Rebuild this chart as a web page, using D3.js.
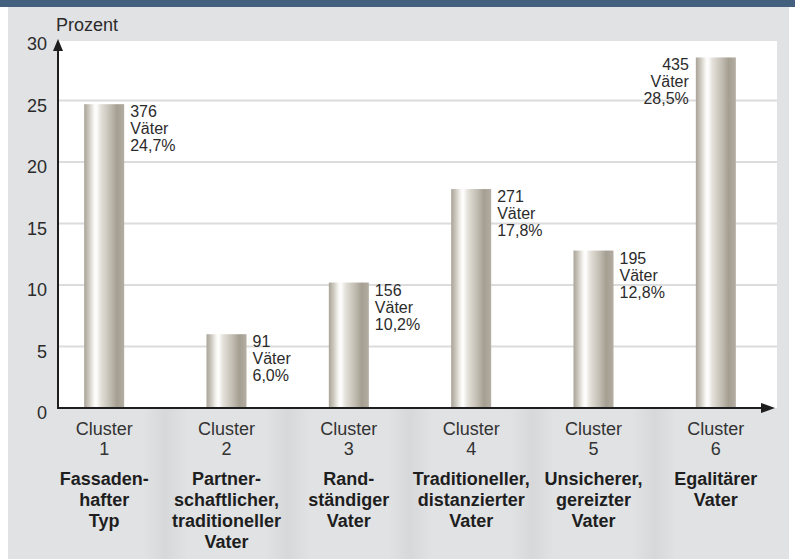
<!DOCTYPE html>
<html>
<head>
<meta charset="utf-8">
<script src="https://cdn.jsdelivr.net/npm/d3@7/dist/d3.min.js"></script>
<style>
  body { margin: 0; background: #fff; }
  svg { display: block; font-family: "Liberation Sans", Arial, sans-serif; }
</style>
</head>
<body>
<svg id="chart"></svg>
<script>
// data
const clusters = ['1', '2', '3', '4', '5', '6'];
const percents = [24.7, 6.0, 10.2, 17.8, 12.8, 28.5];
const fathers = [376, 91, 156, 271, 195, 435];
const typeNames = [
  ['Fassaden-', 'hafter', 'Typ'],
  ['Partner-', 'schaftlicher,', 'traditioneller', 'Vater'],
  ['Rand-', 'ständiger', 'Vater'],
  ['Traditioneller,', 'distanzierter', 'Vater'],
  ['Unsicherer,', 'gereizter', 'Vater'],
  ['Egalitärer', 'Vater']
];
const yTicks = [0, 5, 10, 15, 20, 25, 30];

const width = 795;
const height = 559;
const svg = d3.select('#chart').attr('width', width).attr('height', height);
const defs = svg.append('defs');

const ink = '#2b2b2b';

// scales
const x = d3.scalePoint().domain(clusters).range([43, 777]).padding(0.5);
const y = d3.scaleLinear().domain([0, 30]).range([408, 39]);
const barW = 40;
const step = x.step();

// bar gradient (metal tube look)
const bg = defs.append('linearGradient').attr('id', 'bar').attr('x1', 0).attr('x2', 1);
[[0, '#a9a397'], [0.12, '#cdc9c0'], [0.24, '#f6f5f1'], [0.3, '#ffffff'], [0.42, '#e3e0d9'],
 [0.65, '#c2bdb2'], [0.82, '#a59f92'], [1, '#b3ada2']]
  .forEach(([o, c]) => bg.append('stop').attr('offset', o).attr('stop-color', c));

// soft darker bands between the clusters
const band = defs.append('linearGradient').attr('id', 'band').attr('x1', 0).attr('x2', 1);
[[0, '#e1e2e4'], [0.5, '#d7d8da'], [1, '#e1e2e4']]
  .forEach(([o, c]) => band.append('stop').attr('offset', o).attr('stop-color', c));

// panel
svg.append('rect').attr('x', 8).attr('y', 0).attr('width', width - 14).attr('height', height)
  .attr('fill', '#e1e2e4');
svg.append('g').selectAll('rect')
  .data(clusters.slice(1))
  .enter()
  .append('rect')
  .attr('x', (d) => x(d) - step / 2 - 22)
  .attr('y', 41)
  .attr('width', 44)
  .attr('height', height - 41)
  .attr('fill', 'url(#band)');
svg.append('rect').attr('x', 0).attr('y', 0).attr('width', width).attr('height', 7)
  .attr('fill', '#44607f');

// plot area
svg.append('rect')
  .attr('x', 58).attr('y', y(30) + 2)
  .attr('width', 777 - 58).attr('height', y(0) - y(30) - 2)
  .attr('fill', '#fff');

// gridlines
svg.append('g').selectAll('line')
  .data(yTicks.filter((d) => d > 0 && d < 30))
  .enter()
  .append('line')
  .attr('x1', 58).attr('x2', 777)
  .attr('y1', (d) => y(d)).attr('y2', (d) => y(d))
  .attr('stroke', '#dcdcdc')
  .attr('stroke-width', 2);

// y tick labels
svg.append('g').selectAll('text')
  .data(yTicks)
  .enter()
  .append('text')
  .attr('x', 47)
  .attr('y', (d) => y(d) + 11)
  .attr('text-anchor', 'end')
  .attr('font-size', 18)
  .attr('fill', ink)
  .text((d) => d);

svg.append('text')
  .attr('x', 56).attr('y', 31)
  .attr('font-size', 18)
  .attr('fill', ink)
  .text('Prozent');

// bars
svg.append('g').selectAll('rect')
  .data(percents)
  .enter()
  .append('rect')
  .attr('x', (d, i) => x(clusters[i]) - barW / 2)
  .attr('y', (d) => y(d))
  .attr('width', barW)
  .attr('height', (d) => y(0) - y(d))
  .attr('fill', 'url(#bar)');

// value labels
const valLabels = svg.append('g').selectAll('text')
  .data(percents)
  .enter()
  .append('text')
  .attr('font-size', 16)
  .attr('fill', ink)
  .attr('text-anchor', (d, i) => (i === clusters.length - 1 ? 'end' : 'start'))
  .attr('transform', (d, i) => {
    const last = i === clusters.length - 1;
    const tx = last ? x(clusters[i]) - barW / 2 - 7 : x(clusters[i]) + barW / 2 + 6;
    return `translate(${tx}, ${y(d) + 13})`;
  });
valLabels.each(function (d, i) {
  const lines = [fathers[i], 'Väter', d3.format('.1f')(d).replace('.', ',') + '%'];
  d3.select(this).selectAll('tspan')
    .data(lines)
    .enter()
    .append('tspan')
    .attr('x', 0)
    .attr('y', (_, k) => k * 17)
    .text((t) => t);
});

// axes with arrows
svg.append('line').attr('x1', 58).attr('x2', 58).attr('y1', y(0) + 1).attr('y2', y(30) + 6)
  .attr('stroke', '#1e1e1e').attr('stroke-width', 2);
svg.append('path')
  .attr('d', `M58,${y(30)} L53,${y(30) + 12} L63,${y(30) + 12} Z`)
  .attr('fill', '#1e1e1e');
svg.append('line').attr('x1', 57).attr('x2', 765).attr('y1', y(0)).attr('y2', y(0))
  .attr('stroke', '#1e1e1e').attr('stroke-width', 2);
svg.append('path')
  .attr('d', `M775,${y(0)} L761,${y(0) - 5} L761,${y(0) + 5} Z`)
  .attr('fill', '#1e1e1e');

// category labels
const cat = svg.append('g').selectAll('g')
  .data(clusters)
  .enter()
  .append('g')
  .attr('transform', (d) => `translate(${x(d)}, 0)`);
cat.append('text')
  .attr('text-anchor', 'middle')
  .attr('font-size', 18)
  .attr('fill', '#333')
  .selectAll('tspan')
  .data((d) => ['Cluster', d])
  .enter()
  .append('tspan')
  .attr('x', 0)
  .attr('y', (_, k) => 435 + k * 20)
  .text((t) => t);
cat.append('text')
  .attr('text-anchor', 'middle')
  .attr('font-size', 18)
  .attr('font-weight', 'bold')
  .attr('fill', '#1e1e1e')
  .selectAll('tspan')
  .data((d, i) => typeNames[i])
  .enter()
  .append('tspan')
  .attr('x', 0)
  .attr('y', (_, k) => 485 + k * 21)
  .text((t) => t);
</script>
</body>
</html>
